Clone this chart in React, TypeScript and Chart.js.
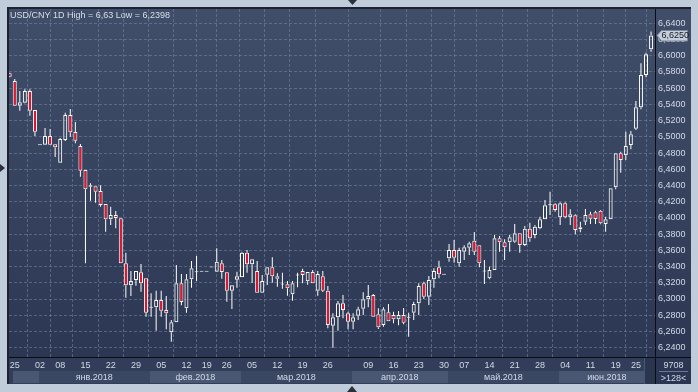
import React, { useEffect, useRef } from 'react';
import { Chart, registerables } from 'chart.js';

Chart.register(...registerables);

// ---- data (candle index 1..128, daily USD/CNY) ----
const opens = [
  6.5783, 6.5688, 6.5384, 6.5421, 6.5565, 6.5331, 6.4903, 6.4903, 6.5010, 6.4908,
  6.4681, 6.4961, 6.5269, 6.5059, 6.4887, 6.4591, 6.4385, 6.4390, 6.4332, 6.4172,
  6.3983, 6.4036, 6.3995, 6.3440, 6.3169, 6.3235, 6.3330, 6.3256, 6.2898, 6.2898,
  6.2988, 6.2865, 6.2590, 6.2713, 6.3194, 6.2886, 6.3243, 6.3337, 6.3342, 6.3342,
  6.3395, 6.3337, 6.3440, 6.3330, 6.3103, 6.3238, 6.3268, 6.3571, 6.3428, 6.3346,
  6.3078, 6.3300, 6.3391, 6.3280, 6.3185, 6.3181, 6.3058, 6.3296, 6.3346, 6.3219,
  6.3333, 6.3103, 6.3280, 6.3103, 6.2671, 6.2775, 6.2947, 6.2824, 6.2720, 6.2794,
  6.2881, 6.2997, 6.3050, 6.2812, 6.2680, 6.2836, 6.2803, 6.2750, 6.2803, 6.2775,
  6.2831, 6.2947, 6.3194, 6.3029, 6.3243, 6.3391, 6.3305, 6.3502, 6.3604, 6.3440,
  6.3584, 6.3633, 6.3719, 6.3662, 6.3346, 6.3256, 6.3358, 6.3749, 6.3699, 6.3699,
  6.3707, 6.3810, 6.3666, 6.3867, 6.3789, 6.3872, 6.3983, 6.4163, 6.4168, 6.4008,
  6.4180, 6.4008, 6.4032, 6.3860, 6.3953, 6.4045, 6.4069, 6.4089, 6.3925, 6.3983,
  6.4378, 6.4797, 6.4772, 6.4899, 6.5100, 6.5364, 6.5762, 6.6079,
];
const highs = [
  6.5790, 6.5713, 6.5565, 6.5586, 6.5586, 6.5331, 6.4905, 6.5109, 6.5097, 6.4908,
  6.4985, 6.5297, 6.5343, 6.5183, 6.4911, 6.4591, 6.4427, 6.4390, 6.4402, 6.4172,
  6.4138, 6.4085, 6.3999, 6.3571, 6.3346, 6.3346, 6.3432, 6.3256, 6.3071, 6.3103,
  6.3103, 6.3037, 6.2741, 6.3420, 6.3309, 6.3309, 6.3469, 6.3531, 6.3342, 6.3342,
  6.3395, 6.3625, 6.3481, 6.3330, 6.3169, 6.3337, 6.3584, 6.3604, 6.3490, 6.3469,
  6.3296, 6.3391, 6.3514, 6.3317, 6.3325, 6.3222, 6.3222, 6.3325, 6.3374, 6.3333,
  6.3358, 6.3346, 6.3346, 6.3161, 6.2824, 6.2976, 6.3050, 6.2844, 6.2824, 6.2905,
  6.3083, 6.3173, 6.3062, 6.2886, 6.2898, 6.2939, 6.2844, 6.2852, 6.2889, 6.2831,
  6.2967, 6.3194, 6.3214, 6.3284, 6.3379, 6.3473, 6.3305, 6.3678, 6.3728, 6.3633,
  6.3662, 6.3707, 6.3826, 6.3662, 6.3481, 6.3399, 6.3789, 6.3777, 6.3736, 6.3789,
  6.3925, 6.3810, 6.3900, 6.3941, 6.3913, 6.4015, 6.4221, 6.4323, 6.4180, 6.4193,
  6.4193, 6.4106, 6.4045, 6.3953, 6.4110, 6.4077, 6.4089, 6.4098, 6.4015, 6.4365,
  6.4797, 6.4817, 6.5063, 6.5072, 6.5442, 6.5907, 6.6037, 6.6300,
];
const lows = [
  6.5735, 6.5380, 6.5322, 6.5413, 6.5260, 6.5010, 6.4901, 6.4903, 6.4903, 6.4751,
  6.4681, 6.4948, 6.5001, 6.4920, 6.4508, 6.3440, 6.4212, 6.4188, 6.4138, 6.3830,
  6.3913, 6.3872, 6.3440, 6.3016, 6.3037, 6.3164, 6.3090, 6.2782, 6.2782, 6.2609,
  6.2782, 6.2627, 6.2474, 6.2713, 6.2923, 6.2831, 6.3140, 6.3222, 6.3342, 6.3342,
  6.3395, 6.3337, 6.3251, 6.2967, 6.2877, 6.3140, 6.3268, 6.3325, 6.3198, 6.3078,
  6.3078, 6.3173, 6.3201, 6.3152, 6.3127, 6.3041, 6.2979, 6.3145, 6.3194, 6.3177,
  6.3194, 6.3041, 6.3087, 6.2639, 6.2398, 6.2609, 6.2762, 6.2627, 6.2627, 6.2741,
  6.2803, 6.2898, 6.2782, 6.2630, 6.2659, 6.2725, 6.2701, 6.2676, 6.2688, 6.2535,
  6.2741, 6.2803, 6.3000, 6.2926, 6.3140, 6.3256, 6.3305, 6.3460, 6.3448, 6.3399,
  6.3481, 6.3543, 6.3543, 6.3391, 6.3185, 6.3243, 6.3358, 6.3584, 6.3481, 6.3584,
  6.3694, 6.3571, 6.3654, 6.3707, 6.3749, 6.3860, 6.3983, 6.4036, 6.4077, 6.3913,
  6.3995, 6.3913, 6.3798, 6.3823, 6.3913, 6.3925, 6.3925, 6.3921, 6.3830, 6.3983,
  6.4353, 6.4558, 6.4714, 6.4846, 6.5084, 6.5339, 6.5734, 6.6050,
];
const closes = [
  6.5741, 6.5384, 6.5426, 6.5565, 6.5322, 6.5063, 6.4903, 6.5010, 6.4903, 6.4871,
  6.4973, 6.5269, 6.5056, 6.4952, 6.4582, 6.4353, 6.4402, 6.4323, 6.4159, 6.3983,
  6.4036, 6.3999, 6.3440, 6.3169, 6.3222, 6.3346, 6.3194, 6.2831, 6.2898, 6.2988,
  6.2856, 6.2824, 6.2713, 6.3194, 6.2963, 6.3243, 6.3379, 6.3337, 6.3342, 6.3342,
  6.3395, 6.3460, 6.3333, 6.3103, 6.3169, 6.3280, 6.3571, 6.3428, 6.3490, 6.3078,
  6.3222, 6.3391, 6.3280, 6.3251, 6.3185, 6.3132, 6.3194, 6.3296, 6.3296, 6.3333,
  6.3194, 6.3309, 6.3103, 6.2680, 6.2775, 6.2947, 6.2865, 6.2720, 6.2775, 6.2873,
  6.2997, 6.3037, 6.2782, 6.2651, 6.2873, 6.2725, 6.2750, 6.2803, 6.2708, 6.2775,
  6.2939, 6.3161, 6.3029, 6.3235, 6.3346, 6.3305, 6.3305, 6.3604, 6.3510, 6.3604,
  6.3638, 6.3687, 6.3584, 6.3440, 6.3346, 6.3358, 6.3749, 6.3699, 6.3638, 6.3761,
  6.3810, 6.3666, 6.3867, 6.3749, 6.3892, 6.3983, 6.4156, 6.4163, 6.4098, 6.4180,
  6.4008, 6.4045, 6.3851, 6.3884, 6.4036, 6.3990, 6.3987, 6.3934, 6.3983, 6.4365,
  6.4797, 6.4714, 6.4887, 6.5031, 6.5364, 6.5762, 6.6017, 6.6250,
];

// x-axis day ticks (candle index -> label)
const tickIdx = [2, 7, 11, 16, 21, 26, 31, 36, 40, 44, 49, 54, 59, 64, 72, 77, 82, 87, 91, 96, 101, 106, 111, 116, 121, 125];
const tickLbl = ['25', '02', '08', '15', '22', '29', '05', '12', '19', '26', '05', '12', '19', '26', '09', '16', '23', '30', '07', '14', '21', '28', '04', '11', '19', '25'];

// month bands (first candle index of each month)
const monthStart = [2, 7, 29, 47, 69, 88, 110];
const monthNames = ['', 'янв.2018', 'фев.2018', 'мар.2018', 'апр.2018', 'май.2018', 'июн.2018'];

const titleText = 'USD/CNY 1D High = 6,63 Low = 6,2398';
const footTop = '9708';
const footBottom = '>128<';

const W = 698;
const H = 392;
const FONT = "'Liberation Sans', Arial, sans-serif";
const TXT = '#d2d9e5';
const RED = '#e3142e';
const GRID = 'rgba(120,135,165,0.55)';

const fmt = (v: number) => v.toFixed(4).replace('.', ',');

export default function App() {
  const ref = useRef<HTMLCanvasElement>(null);

  useEffect(() => {
    if (!ref.current) return;
    const n = opens.length;
    const xs = opens.map((_, i) => i + 1);
    const bodyData = xs.map((x, i) => {
      const o = opens[i];
      const c = closes[i];
      if (o === c) return { x, y: [o - 0.0006, o + 0.0006] };
      return { x, y: [o, c] };
    });
    const bodyColors = xs.map((_, i) =>
      closes[i] < opens[i] ? RED : closes[i] === opens[i] ? '#ffffff' : 'rgba(0,0,0,0)'
    );
    const upper = xs.map((x, i) => ({ x, y: [Math.max(opens[i], closes[i]), highs[i]] }));
    const lower = xs.map((x, i) => ({ x, y: [lows[i], Math.min(opens[i], closes[i])] }));

    const bgPlugin = {
      id: 'bg',
      beforeDraw(chart: any) {
        const { ctx, chartArea: ca, scales } = chart;
        const xs2 = scales.x;
        ctx.save();
        ctx.fillStyle = '#c0ccda';
        ctx.fillRect(0, 0, W, H);
        ctx.fillStyle = '#1c2232';
        ctx.fillRect(7, 7, 684, 377);
        const g = ctx.createLinearGradient(0, 9, 0, 384);
        g.addColorStop(0, '#414e6a');
        g.addColorStop(1, '#2a3651');
        ctx.fillStyle = g;
        ctx.fillRect(9, 9, 682, 375);
        // bottom axis row
        ctx.fillStyle = '#323e59';
        ctx.fillRect(9, ca.bottom, ca.right - 9, 384 - ca.bottom);
        // month bands
        for (let m = 0; m < monthStart.length; m++) {
          const x0 = Math.max(9, xs2.getPixelForValue(monthStart[m] - 0.25));
          const x1 = m + 1 < monthStart.length ? xs2.getPixelForValue(monthStart[m + 1] - 0.25) : ca.right;
          ctx.fillStyle = m % 2 === 0 ? '#4a5773' : '#3a4763';
          ctx.fillRect(Math.round(x0), 371, Math.round(x1) - Math.round(x0), 12);
        }
        // scroller block
        ctx.fillStyle = '#2a3550';
        ctx.fillRect(644, ca.bottom + 1, ca.right - 644, 383 - ca.bottom);
        ctx.fillStyle = '#4a5672';
        ctx.fillRect(644, ca.bottom + 1, 1, 383 - ca.bottom);
        ctx.restore();
      },
      afterDraw(chart: any) {
        const { ctx, chartArea: ca, scales } = chart;
        const xs2 = scales.x;
        const ys = scales.y;
        ctx.save();
        // axis separators
        ctx.strokeStyle = '#0a0d14';
        ctx.lineWidth = 1;
        ctx.beginPath();
        ctx.moveTo(9, ca.bottom + 0.5);
        ctx.lineTo(691, ca.bottom + 0.5);
        ctx.moveTo(ca.right + 0.5, 9);
        ctx.lineTo(ca.right + 0.5, 384);
        ctx.stroke();
        // month labels
        ctx.font = `9px ${FONT}`;
        ctx.fillStyle = TXT;
        ctx.textAlign = 'center';
        ctx.textBaseline = 'middle';
        for (let m = 0; m < monthStart.length; m++) {
          if (!monthNames[m]) continue;
          const x0 = xs2.getPixelForValue(monthStart[m] - 0.25);
          const x1 = m + 1 < monthStart.length ? xs2.getPixelForValue(monthStart[m + 1] - 0.25) : ca.right;
          ctx.fillText(monthNames[m], (x0 + x1) / 2, 377.5);
        }
        // footer box
        ctx.fillText(footTop, 673.5, 366);
        ctx.fillText(footBottom, 673.5, 378.5);
        ctx.strokeStyle = '#6c7891';
        ctx.beginPath();
        ctx.moveTo(659, 371.5);
        ctx.lineTo(688, 371.5);
        ctx.stroke();
        // title
        ctx.textAlign = 'left';
        ctx.fillStyle = '#d8dee9';
        ctx.fillText(titleText, 10, 15.5);
        // last price box
        const yp = Math.round(ys.getPixelForValue(closes[n - 1])) + 0.5;
        ctx.beginPath();
        ctx.moveTo(657, yp);
        ctx.lineTo(661.5, yp - 5);
        ctx.lineTo(687.5, yp - 5);
        ctx.lineTo(687.5, yp + 5.5);
        ctx.lineTo(661.5, yp + 5.5);
        ctx.closePath();
        ctx.fillStyle = '#c6ced9';
        ctx.fill();
        ctx.strokeStyle = '#7a869a';
        ctx.stroke();
        ctx.fillStyle = '#111a2a';
        ctx.fillText(fmt(closes[n - 1]), 661.5, yp + 0.5);
        // scroll markers
        ctx.fillStyle = '#2b303b';
        ctx.beginPath();
        ctx.moveTo(348, 0);
        ctx.lineTo(357, 0);
        ctx.lineTo(352.5, 5);
        ctx.closePath();
        ctx.fill();
        ctx.beginPath();
        ctx.moveTo(347, 392);
        ctx.lineTo(357, 392);
        ctx.lineTo(352, 386);
        ctx.closePath();
        ctx.fill();
        ctx.beginPath();
        ctx.moveTo(0, 164);
        ctx.lineTo(0, 172);
        ctx.lineTo(5, 168);
        ctx.closePath();
        ctx.fill();
        ctx.restore();
      },
    };

    const chart = new Chart(ref.current, {
      type: 'bar',
      data: {
        datasets: [
          {
            label: 'body',
            data: bodyData as any,
            backgroundColor: bodyColors,
            borderColor: '#ffffff',
            borderWidth: 1,
            borderSkipped: false,
            barThickness: 4,
            grouped: false,
            inflateAmount: 0,
            order: 0,
          } as any,
          {
            label: 'upper',
            data: upper as any,
            backgroundColor: '#ffffff',
            borderWidth: 0,
            barThickness: 1,
            grouped: false,
            inflateAmount: 0,
            order: 1,
          } as any,
          {
            label: 'lower',
            data: lower as any,
            backgroundColor: '#ffffff',
            borderWidth: 0,
            barThickness: 1,
            grouped: false,
            inflateAmount: 0,
            order: 1,
          } as any,
        ],
      },
      options: {
        responsive: false,
        animation: false,
        devicePixelRatio: 1,
        events: [],
        layout: { padding: { left: 9, top: 9, right: 8, bottom: 9 } },
        plugins: { legend: { display: false }, tooltip: { enabled: false } },
        scales: {
          x: {
            type: 'linear',
            min: 0.8614,
            max: 128.78,
            offset: false,
            afterBuildTicks: (s: any) => {
              s.ticks = tickIdx.map((v) => ({ value: v }));
            },
            afterFit: (s: any) => {
              s.height = 26;
            },
            ticks: {
              autoSkip: false,
              maxRotation: 0,
              minRotation: 0,
              padding: 3,
              color: TXT,
              font: { family: FONT, size: 9 },
              callback: (_v: any, i: number) => tickLbl[i] ?? '',
            },
            grid: { color: GRID, drawTicks: false, lineWidth: 1 },
            border: { display: false, dash: [3, 2] },
          },
          y: {
            type: 'linear',
            position: 'right',
            min: 6.2285,
            max: 6.6576,
            afterFit: (s: any) => {
              s.width = 35;
            },
            ticks: {
              stepSize: 0.02,
              includeBounds: false,
              autoSkip: false,
              padding: 3,
              color: TXT,
              font: { family: FONT, size: 9 },
              callback: (v: any) => fmt(Number(v)),
            },
            grid: { color: GRID, drawTicks: false, lineWidth: 1 },
            border: { display: false, dash: [3, 2] },
          },
        },
      } as any,
      plugins: [bgPlugin],
    });
    return () => chart.destroy();
  }, []);

  return (
    <div style={{ position: 'absolute', left: 0, top: 0, width: W, height: H }}>
      <canvas ref={ref} width={W} height={H} style={{ display: 'block', width: W, height: H }} />
    </div>
  );
}
